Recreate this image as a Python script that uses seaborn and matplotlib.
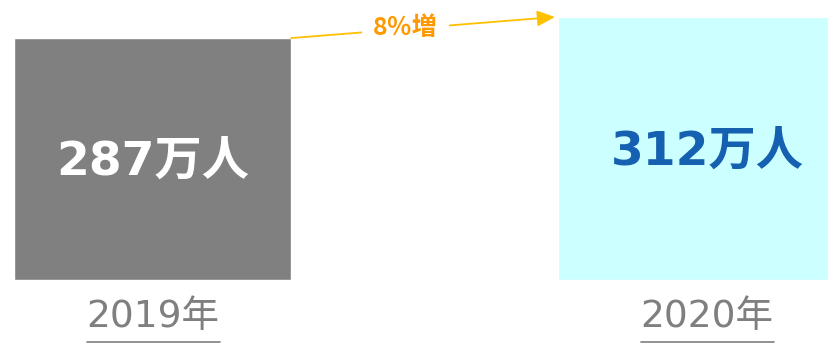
import matplotlib
matplotlib.use("Agg")
import matplotlib.pyplot as plt
import seaborn as sns
import pandas as pd
from matplotlib.lines import Line2D

years = ["2019年", "2020年"]
values = [287, 312]
value_labels = ["287万人", "312万人"]
growth_label = "8％増"

bar_colors = ["#808080", "#ccffff"]
label_colors = ["#ffffff", "#1560b0"]

sns.set_theme(style="white")
plt.rcParams["font.family"] = ["DejaVu Sans", "Noto Sans CJK JP"]

fig = plt.figure(figsize=(8.38, 3.44), dpi=100)
W, H = 838, 344
ax = fig.add_axes([10 / W, 64 / H, 818 / W, 263 / H])

df = pd.DataFrame({"year": years, "value": values})
width = 0.51
sns.barplot(data=df, x="year", y="value", hue="year", palette=bar_colors,
            width=width, legend=False, ax=ax, saturation=1)

ax.set_xlim(-0.262, 1.242)
ax.set_ylim(0, max(values))
ax.axis("off")

for i, (v, lab) in enumerate(zip(values, value_labels)):
    ax.text(i + (0.02 if i == 1 else 0), v * 0.485, lab, ha="center", va="center",
            fontsize=34, fontweight="bold", color=label_colors[i])

# growth arrow
ax.annotate("", xy=(1 - width / 2 - 0.005, values[1]), xytext=(width / 2, values[0]),
            arrowprops=dict(arrowstyle="-|>,head_length=0.9,head_width=0.4",
                            color="#ffc000", lw=1.3, shrinkA=0, shrinkB=0),
            annotation_clip=False)
ax.text(0.465, (values[0] + values[1]) / 2, growth_label, ha="center", va="center",
        fontsize=18, fontweight="bold", color="#ff9900",
        family=["Noto Sans CJK JP", "DejaVu Sans"],
        bbox=dict(facecolor="white", edgecolor="none", pad=8), clip_on=False)

# year labels with underline
texts = []
for i, y in enumerate(years):
    xpix = [153, 707][i]
    t = fig.text(xpix / W, (344 - 317) / H, y, ha="center", va="center",
                 fontsize=27, color="#7f7f7f")
    texts.append(t)

fig.canvas.draw()
r = fig.canvas.get_renderer()
for t in texts:
    bb = t.get_window_extent(renderer=r)
    fig.add_artist(Line2D([bb.x0 / W, bb.x1 / W], [2.5 / H, 2.5 / H],
                          transform=fig.transFigure, color="#7f7f7f", lw=1.2))

fig.savefig("out.png", dpi=100, facecolor="white")
